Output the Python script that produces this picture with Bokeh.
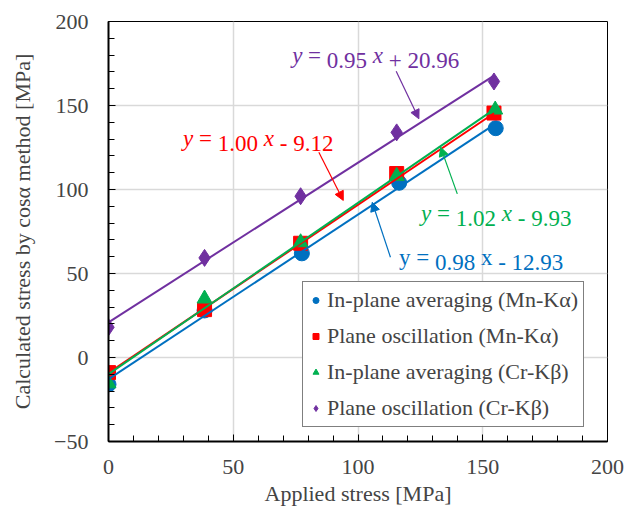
from bokeh.plotting import figure
from bokeh.models import (Range1d, SingleIntervalTicker, Legend, LegendItem,
                          Label, Arrow, NormalHead)
from bokeh.embed import file_html
from bokeh.resources import INLINE

# ---- data ----
blue_x = [0, 38.5, 77.5, 116.5, 155.2]
blue_y = [-16.0, 28.0, 62.0, 104.0, 136.5]
red_x = [0, 38.5, 77.0, 115.5, 154.5]
red_y = [-9.0, 28.5, 68.0, 109.5, 145.5]
green_x = [0, 38.5, 77.0, 115.5, 155.0]
green_y = [-15.5, 35.0, 68.5, 108.0, 147.5]
purple_x = [0, 38.5, 77.0, 115.5, 154.5]
purple_y = [18.0, 59.3, 96.0, 134.0, 164.3]

series_names = ["In-plane averaging (Mn-K\u03b1)", "Plane oscillation (Mn-K\u03b1)",
                "In-plane averaging (Cr-K\u03b2)", "Plane oscillation (Cr-K\u03b2)"]
fit_slopes = [0.98, 1.00, 1.02, 0.95]
fit_intercepts = [-12.93, -9.12, -9.93, 20.96]

tick_interval = 50
FONT = "Liberation Serif"
FS = 22

colors = ["#0070C0", "#FF0000", "#00B050", "#7030A0"]
markers = ["circle", "square", "triangle", "diamond"]
sizes = [15, 14, 15, 17]
xs = [blue_x, red_x, green_x, purple_x]
ys = [blue_y, red_y, green_y, purple_y]

p = figure(width=626, height=510, output_backend="svg", toolbar_location=None,
           x_range=Range1d(0, 200), y_range=Range1d(-50, 200),
           min_border_left=108, min_border_right=19, min_border_top=21,
           min_border_bottom=69)
p.outline_line_color = "black"
p.outline_line_width = 1

for ax in (p.xaxis[0], p.yaxis[0]):
    ax.ticker = SingleIntervalTicker(interval=tick_interval, num_minor_ticks=5)
    ax.major_tick_in = 7
    ax.major_tick_out = 0
    ax.minor_tick_in = 6
    ax.minor_tick_out = 0
    ax.axis_line_width = 2
    ax.axis_line_color = "black"
    ax.major_tick_line_color = "black"
    ax.minor_tick_line_color = "black"
    ax.major_tick_line_width = 1
    ax.major_label_text_font = FONT
    ax.major_label_text_font_size = f"{FS}px"
    ax.axis_label_text_font = FONT
    ax.axis_label_text_font_size = f"{FS}px"
    ax.axis_label_text_font_style = "normal"
    ax.major_label_standoff = 18

p.xaxis.axis_label = "Applied stress [MPa]"
p.yaxis.axis_label = "Calculated stress by cos\u03b1 method [MPa]"
p.xaxis.axis_label_standoff = 4
p.yaxis.axis_label_standoff = 16
p.yaxis.major_label_standoff = 20

p.xgrid.grid_line_color = "#D9D9D9"
p.ygrid.grid_line_color = "#D9D9D9"
p.xgrid.grid_line_width = 1.5
p.ygrid.grid_line_width = 1.5

items = []
for i in range(4):
    r = p.scatter(xs[i], ys[i], marker=markers[i], size=sizes[i],
                  fill_color=colors[i], line_color=colors[i])
    items.append(LegendItem(label=series_names[i], renderers=[r]))

for i in range(4):
    x0, x1 = xs[i][0], xs[i][-1]
    p.line([x0, x1], [fit_slopes[i] * x0 + fit_intercepts[i],
                      fit_slopes[i] * x1 + fit_intercepts[i]],
           line_color=colors[i], line_width=2)

# ---- equation labels (mixed italic), tokens placed by Times metrics ----
W = {' ': 250, '=': 564, '.': 250, '+': 564, '-': 333, 'y': 500, 'x': 500}
WI = {'y': 444, 'x': 444}
for d in "0123456789":
    W[d] = 500
EQ_FS = 23
DESCENT = 5  # px from baseline to text bottom


def width(s, italic):
    return sum((WI.get(c, W.get(c, 500)) if italic else W.get(c, 500)) for c in s) * EQ_FS / 1000.0


def eq_label(x, y, pieces, color):
    off = 0.0
    for txt, it in pieces:
        s = txt.strip()
        lead = len(txt) - len(txt.lstrip())
        off_s = off + lead * W[' '] * EQ_FS / 1000.0
        if s:
            p.add_layout(Label(x=x, y=y, x_offset=off_s, y_offset=-DESCENT, text=s,
                               text_font=FONT, text_font_size=f"{EQ_FS}px",
                               text_color=color,
                               text_font_style="italic" if it else "normal"))
        off += width(txt, it)


def fmt(m, b):
    sign = "+" if b >= 0 else "-"
    return f"{m:.2f}", sign, f"{abs(b):.2f}"


def pieces_for(i, italic=True):
    m, sign, b = fmt(fit_slopes[i], fit_intercepts[i])
    return [("y", italic), (" = ", False), (m, False), (" ", False), ("x", italic),
            (" ", False), (sign, False), (" ", False), (b, False)]


eq_label(73.6, 175.4, pieces_for(3), colors[3])
eq_label(29.9, 125.6, pieces_for(1), colors[1])
eq_label(125.3, 81.5, pieces_for(2), colors[2])
eq_label(116.4, 54.8, pieces_for(0, italic=False), colors[0])

arrows = [
    (115.3, 170.4, 124.4, 142.1, colors[3]),
    (84.3, 122.2, 94.1, 93.5, colors[1]),
    (139.8, 97.4, 133.1, 125.2, colors[2]),
    (113.0, 59.7, 105.7, 92.4, colors[0]),
]
for xa, ya, xb, yb, c in arrows:
    p.add_layout(Arrow(end=NormalHead(size=9, fill_color=c, line_color=c, line_width=1),
                       x_start=xa, y_start=ya, x_end=xb, y_end=yb,
                       line_color=c, line_width=1.2))

legend = Legend(items=items, location=(194, 14))
legend.label_text_font = FONT
legend.label_text_font_size = f"{FS}px"
legend.border_line_color = "black"
legend.border_line_width = 1
legend.background_fill_alpha = 1
legend.padding = 5
legend.margin = 0
legend.spacing = 10
legend.glyph_width = 15
legend.glyph_height = 26
legend.label_height = 26
legend.label_standoff = 4
p.add_layout(legend)

open("out.html", "w").write(file_html(p, INLINE))
